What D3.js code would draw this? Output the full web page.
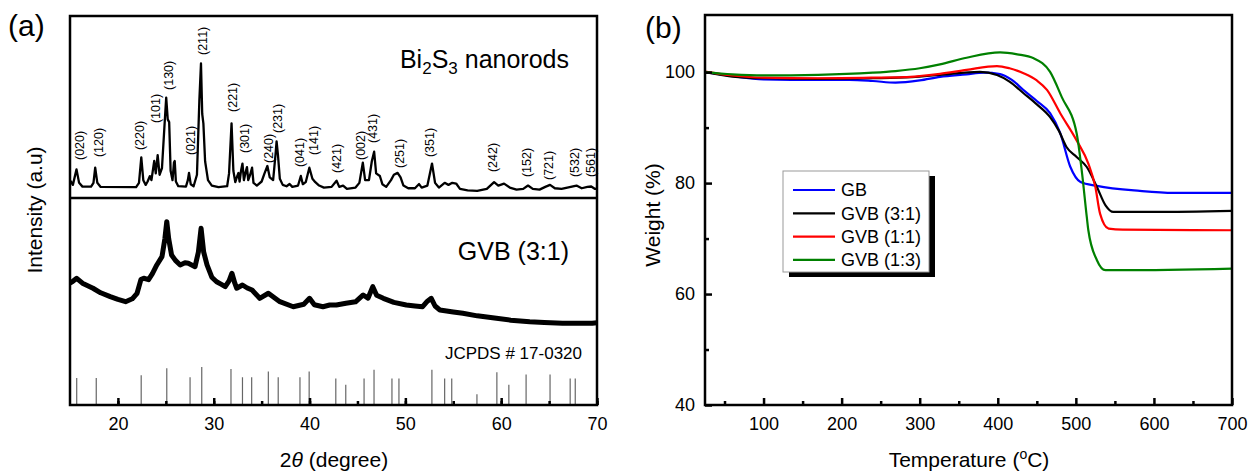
<!DOCTYPE html>
<html>
<head>
<meta charset="utf-8">
<script src="https://d3js.org/d3.v7.min.js"></script>
<style>
body { margin: 0; background: #fff; }
text { font-family: "Liberation Sans", Arial, sans-serif; fill: #000; }
</style>
</head>
<body>
<div id="chart"></div>
<script>
// ---- Panel (a): XRD data, [2theta, intensity a.u.] ----
var bi2s3Pattern = [
  [15.05,104],[15.3,75],[15.68,190],[15.95,90],[16.3,62],[17.2,62],[17.45,90],[17.63,203],[17.85,90],[18.2,60],
  [21.9,58],[22.2,90],[22.44,278],[22.65,110],[22.9,75],[23.1,100],[23.33,140],[23.5,110],[23.79,252],[23.95,160],
  [24.15,296],[24.35,150],[24.6,200],[24.85,500],[25.04,721],[25.2,560],[25.35,540],[25.5,180],[25.7,110],[25.85,240],
  [25.93,252],[26.05,100],[26.3,65],[27.1,62],[27.3,110],[27.42,163],[27.6,80],[27.9,65],[28.25,150],[28.5,700],
  [28.67,974],[28.8,600],[28.92,531],[29.1,250],[29.4,110],[29.8,70],[30.5,58],[31.4,65],[31.6,160],[31.86,531],
  [32.05,180],[32.25,95],[32.45,140],[32.58,163],[32.7,100],[32.85,180],[33.0,233],[33.15,110],[33.3,160],[33.47,207],
  [33.6,110],[33.8,150],[34.0,202],[34.15,90],[34.5,70],[35.0,100],[35.3,160],[35.6,215],[35.85,130],[36.2,110],
  [36.45,300],[36.56,397],[36.7,300],[36.9,120],[37.2,75],[37.6,65],[37.92,81],[38.2,60],[38.8,70],[39.09,141],
  [39.3,80],[39.6,95],[39.98,202],[40.3,120],[40.6,95],[41.0,70],[41.5,55],[42.3,60],[42.82,106],[43.1,60],
  [43.5,70],[43.9,45],[44.8,55],[45.2,90],[45.56,240],[45.8,110],[46.2,110],[46.5,250],[46.74,321],[46.95,160],
  [47.34,141],[47.6,80],[48.0,60],[48.5,110],[48.8,150],[49.19,164],[49.5,130],[49.8,70],[50.3,50],[51.0,50],
  [51.43,81],[51.7,55],[52.3,70],[52.78,233],[53.1,90],[53.5,55],[54.1,90],[54.5,75],[54.9,90],[55.3,85],
  [55.7,45],[56.5,35],[57.5,30],[58.5,45],[59.26,95],[59.7,70],[60.3,84],[60.9,55],[61.6,40],[62.3,45],
  [62.8,70],[63.3,45],[64.0,40],[64.6,60],[65.1,75],[65.6,50],[66.3,45],[66.9,55],[67.86,70],[68.4,50],
  [69.0,60],[69.4,63],[69.8,45],[70.0,48]
];

var gvbPattern = [
  [15.0,390],[15.2,400],[15.7,431],[16.3,390],[17.4,348],[18.2,310],[19.2,278],[20.0,255],[20.8,236],[21.5,260],
  [22.0,306],[22.4,420],[22.7,431],[23.2,420],[23.6,470],[24.06,542],[24.6,611],[24.9,760],[25.1,903],[25.3,760],
  [25.6,625],[26.0,580],[26.5,542],[27.0,560],[27.35,556],[28.05,528],[28.4,650],[28.68,848],[28.95,650],[29.3,542],
  [29.8,440],[30.3,402],[30.8,380],[31.2,361],[31.6,410],[31.9,473],[32.2,390],[32.4,348],[33.0,375],[33.5,350],
  [34.0,333],[34.8,264],[35.7,306],[36.9,236],[38.3,194],[39.4,215],[40.0,264],[40.5,210],[41.4,194],[42.1,208],
  [42.8,208],[43.8,223],[44.8,235],[45.6,292],[46.1,265],[46.6,361],[47.0,290],[47.7,264],[48.8,230],[50.1,208],
  [51.0,200],[51.8,194],[52.3,240],[52.7,264],[53.1,200],[53.6,167],[55.0,150],[56.0,139],[57.5,118],[59.5,98],
  [61.0,82],[62.98,69],[64.5,62],[66.4,56],[68.0,56],[69.5,56],[70.0,60]
];

// JCPDS 17-0320 reference lines: positions and relative intensities
var refTheta = [15.7,17.74,22.43,25.1,27.53,28.75,31.8,33.0,33.96,35.7,36.73,39.0,39.96,42.74,43.78,45.69,46.73,48.6,49.33,52.77,54.1,54.84,57.47,59.55,60.8,62.6,65.1,67.2,67.73];
var refInt   = [71,71,78,97,73,100,95,73,73,88,73,73,88,70,53,70,93,70,70,93,70,70,28,86,53,80,80,70,70];

// Miller indices and the 2theta / intensity level where each label sits
var hklNames = ["(020)","(120)","(220)","(101)","(130)","(021)","(211)","(221)","(301)","(240)","(231)","(041)","(141)","(421)","(002)","(431)","(251)","(351)","(242)","(152)","(721)","(532)","(561)"];
var hklTheta = [16.0,17.98,22.3,23.9,25.3,27.6,28.85,32.0,33.2,35.7,36.7,39.0,40.4,42.85,45.3,46.6,49.4,52.5,59.1,62.6,64.9,67.7,69.3];
var hklLevel = [259,281,333,533,778,296,1037,615,311,237,459,207,296,163,259,385,200,281,170,133,111,133,133];

var xTicksA = [20,30,40,50,60,70];
var xMinorA = [20,25,30,35,40,45,50,55,60,65,70];

// ---- Panel (b): TGA data, [temperature C, weight %] ----
var gbCurve = [[25,100],[45,99.6],[60,99.3],[100,98.7],[170,98.6],[210,98.6],[240,98.4],[269,98.1],[300,98.5],[326,99.15],[360,99.6],[382,99.9],[403,99.64],[418,98.6],[433,96.75],[450,94.8],[467,92.6],[480,89],[493,82.9],[506,80.2],[527,79.5],[582,78.6],[625,78.25],[700,78.25]];
var gvb31Curve = [[25,100],[60,99.2],[100,98.9],[170,98.8],[240,98.9],[290,99.1],[326,99.5],[377,100.05],[399,99.5],[415,98.3],[433,96.2],[450,94.2],[467,91.9],[478,89.5],[488,86.5],[501,84.7],[514,82.9],[527,79.3],[538,76.0],[548,74.8],[600,74.8],[700,75.0]];
var gvb11Curve = [[25,100.1],[60,99.4],[100,99.0],[170,98.9],[240,99.0],[280,99.1],[300,99.3],[326,99.7],[360,100.4],[399,101.1],[415,100.7],[433,99.8],[450,98.5],[463,96.8],[480,92.6],[501,87.7],[516,83.5],[525,79.3],[531,74.5],[542,71.8],[560,71.6],[700,71.5]];
var gvb13Curve = [[25,100],[60,99.6],[100,99.4],[170,99.5],[240,99.9],[269,100.2],[300,100.7],[326,101.4],[360,102.6],[403,103.55],[425,103.2],[446,102.5],[467,100.05],[482,95.5],[501,89],[508,81.7],[514,73.9],[516,71.5],[527,66.1],[538,64.3],[560,64.3],[700,64.6]];

var tgaNames  = ["GB","GVB (3:1)","GVB (1:1)","GVB (1:3)"];
var tgaColors = ["#0000ff","#000000","#ff0000","#008000"];

var xTicksB = [100,200,300,400,500,600,700];
var xMinorB = [50,150,250,350,450,550,650];
var yTicksB = [40,60,80,100];
var yMinorB = [50,70,90];

var svg = d3.select("#chart").append("svg")
    .attr("width", 1248)
    .attr("height", 474);

// ================= Panel (a) =================
var boxA = { left: 70, right: 597, top: 16, bottom: 405, split: 198 };

var xA = d3.scaleLinear().domain([15, 70]).range([boxA.left, boxA.right]);
var yBi = d3.scaleLinear().domain([0, 1000]).range([195, 60]);
var yGvb = d3.scaleLinear().domain([0, 1000]).range([330, 210]);
var yRef = d3.scaleLinear().domain([0, 100]).range([boxA.bottom, 367]);

svg.append("clipPath").attr("id", "clipA")
  .append("rect")
    .attr("x", boxA.left).attr("y", boxA.top)
    .attr("width", boxA.right - boxA.left).attr("height", boxA.bottom - boxA.top);

var gA = svg.append("g").attr("clip-path", "url(#clipA)");

var lineA = function(yScale){
    return d3.line().x(d => xA(d[0])).y(d => yScale(d[1]));
};

// reference sticks
gA.selectAll(".stick")
    .data(refTheta)
    .enter()
    .append("line")
    .attr("class", "stick")
    .attr("x1", d => xA(d)).attr("x2", d => xA(d))
    .attr("y1", yRef(0))
    .attr("y2", (d,i) => yRef(refInt[i]))
    .attr("stroke", "#666")
    .attr("stroke-width", 1.2);

// GVB (3:1) noisy trace, drawn as a thick band
gA.append("path")
    .datum(gvbPattern)
    .attr("d", lineA(yGvb))
    .attr("fill", "none")
    .attr("stroke", "#000")
    .attr("stroke-width", 5)
    .attr("stroke-linejoin", "round");

gA.append("path")
    .datum(bi2s3Pattern)
    .attr("d", lineA(yBi))
    .attr("fill", "none")
    .attr("stroke", "#000")
    .attr("stroke-width", 2.3)
    .attr("stroke-linejoin", "round");

// hkl labels
svg.selectAll(".hkl")
    .data(hklNames)
    .enter()
    .append("text")
    .attr("class", "hkl")
    .attr("transform", (d,i) => "translate(" + xA(hklTheta[i]) + "," + yBi(hklLevel[i]) + ") rotate(-90)")
    .attr("dy", "0.36em")
    .attr("font-size", "12.5px")
    .text(d => d);

// x axis (a)
svg.append("g")
    .attr("transform", "translate(0," + boxA.bottom + ")")
    .call(d3.axisBottom(xA).tickValues(xMinorA).tickSize(-4).tickFormat(""))
    .call(g => g.select(".domain").remove())
    .selectAll("line").attr("stroke-width", 2.5);

svg.append("g")
    .attr("class", "axisA")
    .attr("transform", "translate(0," + boxA.bottom + ")")
    .call(d3.axisBottom(xA).tickValues(xTicksA).tickSize(-7).tickPadding(12))
    .call(g => g.select(".domain").remove())
    .call(g => g.selectAll("line").attr("stroke-width", 2.5))
    .call(g => g.selectAll("text").attr("font-size", "18px").attr("font-family", null));

// frame + divider
svg.append("rect")
    .attr("x", boxA.left).attr("y", boxA.top)
    .attr("width", boxA.right - boxA.left).attr("height", boxA.bottom - boxA.top)
    .attr("fill", "none").attr("stroke", "#000").attr("stroke-width", 2.5);

svg.append("line")
    .attr("x1", boxA.left).attr("x2", boxA.right)
    .attr("y1", boxA.split).attr("y2", boxA.split)
    .attr("stroke", "#000").attr("stroke-width", 2.5);

// in-panel texts
var biLabel = svg.append("text")
    .attr("x", 569).attr("y", 68)
    .attr("text-anchor", "end")
    .attr("font-size", "25px");
biLabel.append("tspan").text("Bi");
biLabel.append("tspan").attr("font-size", "17px").attr("dy", 6).text("2");
biLabel.append("tspan").attr("dy", -6).text("S");
biLabel.append("tspan").attr("font-size", "17px").attr("dy", 6).text("3");
biLabel.append("tspan").attr("dy", -6).text(" nanorods");

svg.append("text")
    .attr("x", 569).attr("y", 260)
    .attr("text-anchor", "end")
    .attr("font-size", "25px")
    .text("GVB (3:1)");

svg.append("text")
    .attr("x", 582).attr("y", 359)
    .attr("text-anchor", "end")
    .attr("font-size", "17px")
    .text("JCPDS # 17-0320");

svg.append("text")
    .attr("x", 8).attr("y", 36)
    .attr("font-size", "30px")
    .text("(a)");

svg.append("text")
    .attr("transform", "translate(42,210) rotate(-90)")
    .attr("text-anchor", "middle")
    .attr("font-size", "21px")
    .text("Intensity (a.u)");

var xTitleA = svg.append("text")
    .attr("x", 334).attr("y", 467)
    .attr("text-anchor", "middle")
    .attr("font-size", "21px");
xTitleA.append("tspan").text("2");
xTitleA.append("tspan").attr("font-style", "italic").text("\u03b8");
xTitleA.append("tspan").text(" (degree)");

// ================= Panel (b) =================
var boxB = { left: 705, right: 1232, top: 15, bottom: 405 };

var xB = d3.scaleLinear().domain([25, 700]).range([boxB.left, boxB.right]);
var yB = d3.scaleLinear().domain([40, 110.3]).range([boxB.bottom, boxB.top]);

svg.append("clipPath").attr("id", "clipB")
  .append("rect")
    .attr("x", boxB.left).attr("y", boxB.top)
    .attr("width", boxB.right - boxB.left).attr("height", boxB.bottom - boxB.top);

var lineB = d3.line()
    .x(d => xB(d[0]))
    .y(d => yB(d[1]))
    .curve(d3.curveMonotoneX);

var tgaData = [gbCurve, gvb31Curve, gvb11Curve, gvb13Curve];

svg.append("g")
    .attr("clip-path", "url(#clipB)")
    .selectAll("path")
    .data(tgaData)
    .enter()
    .append("path")
    .attr("d", lineB)
    .attr("fill", "none")
    .attr("stroke", (d,i) => tgaColors[i])
    .attr("stroke-width", 2.2);

// axes (b)
svg.append("g")
    .attr("transform", "translate(0," + boxB.bottom + ")")
    .call(d3.axisBottom(xB).tickValues(xMinorB).tickSize(-4).tickFormat(""))
    .call(g => g.select(".domain").remove())
    .selectAll("line").attr("stroke-width", 2.5);

svg.append("g")
    .attr("transform", "translate(0," + boxB.bottom + ")")
    .call(d3.axisBottom(xB).tickValues(xTicksB).tickSize(-7).tickPadding(12))
    .call(g => g.select(".domain").remove())
    .call(g => g.selectAll("line").attr("stroke-width", 2.5))
    .call(g => g.selectAll("text").attr("font-size", "18px").attr("font-family", null));

svg.append("g")
    .attr("transform", "translate(" + boxB.left + ",0)")
    .call(d3.axisLeft(yB).tickValues(yMinorB).tickSize(-4).tickFormat(""))
    .call(g => g.select(".domain").remove())
    .selectAll("line").attr("stroke-width", 2.5);

svg.append("g")
    .attr("transform", "translate(" + boxB.left + ",0)")
    .call(d3.axisLeft(yB).tickValues(yTicksB).tickSize(-7).tickPadding(10))
    .call(g => g.select(".domain").remove())
    .call(g => g.selectAll("line").attr("stroke-width", 2.5))
    .call(g => g.selectAll("text").attr("font-size", "18px").attr("font-family", null));

svg.append("rect")
    .attr("x", boxB.left).attr("y", boxB.top)
    .attr("width", boxB.right - boxB.left).attr("height", boxB.bottom - boxB.top)
    .attr("fill", "none").attr("stroke", "#000").attr("stroke-width", 2.5);

// legend with drop shadow
var legend = svg.append("g").attr("transform", "translate(783,171)");

legend.append("rect")
    .attr("x", 6).attr("y", 5)
    .attr("width", 146).attr("height", 101)
    .attr("fill", "#000");

legend.append("rect")
    .attr("width", 146).attr("height", 101)
    .attr("fill", "#fff")
    .attr("stroke", "#999")
    .attr("stroke-width", 1);

var rows = legend.selectAll(".row")
    .data(tgaNames)
    .enter()
    .append("g")
    .attr("class", "row")
    .attr("transform", (d,i) => "translate(0," + (19 + i*23.3) + ")");

rows.append("line")
    .attr("x1", 10).attr("x2", 52)
    .attr("stroke", (d,i) => tgaColors[i])
    .attr("stroke-width", 2.2);

rows.append("text")
    .attr("x", 58)
    .attr("dy", "0.35em")
    .attr("font-size", "18px")
    .text(d => d);

svg.append("text")
    .attr("x", 645).attr("y", 38)
    .attr("font-size", "30px")
    .text("(b)");

svg.append("text")
    .attr("transform", "translate(660,215) rotate(-90)")
    .attr("text-anchor", "middle")
    .attr("font-size", "21px")
    .text("Weight (%)");

var xTitleB = svg.append("text")
    .attr("x", 969).attr("y", 467)
    .attr("text-anchor", "middle")
    .attr("font-size", "21px");
xTitleB.append("tspan").text("Temperature (");
xTitleB.append("tspan").attr("font-size", "14px").attr("dy", -8).text("o");
xTitleB.append("tspan").attr("dy", 8).text("C)");
</script>
</body>
</html>
